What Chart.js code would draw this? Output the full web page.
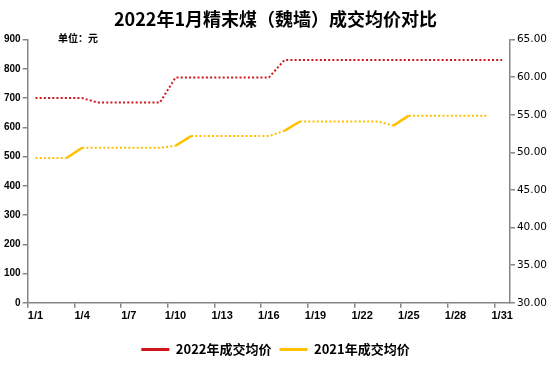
<!DOCTYPE html>
<html>
<head>
<meta charset="utf-8">
<script src="https://cdn.jsdelivr.net/npm/chart.js@4.4.0/dist/chart.umd.min.js"></script>
<style>
    body { margin: 0; background: #fff; }
    #wrap { position: relative; width: 555px; height: 368px; }
    #unit { position: absolute; left: 58px; top: 30px; font: bold 10px "Noto Sans CJK SC"; color: #000; }
</style>
</head>
<body>
<div id="wrap">
    <canvas id="priceChart" width="555" height="368"></canvas>
    <div id="unit">单位：元</div>
</div>

<script>
    var days = ['1/1','1/2','1/3','1/4','1/5','1/6','1/7','1/8','1/9','1/10',
                '1/11','1/12','1/13','1/14','1/15','1/16','1/17','1/18','1/19','1/20',
                '1/21','1/22','1/23','1/24','1/25','1/26','1/27','1/28','1/29','1/30','1/31'];

    var price2022 = [700, 700, 700, 700, 685, 685, 685, 685, 685, 770,
                     770, 770, 770, 770, 770, 770, 830, 830, 830, 830,
                     830, 830, 830, 830, 830, 830, 830, 830, 830, 830, 830];

    var price2021 = [495, 495, 495, 530, 530, 530, 530, 530, 530, 537,
                     570, 570, 570, 570, 570, 570, 588, 620, 620, 620,
                     620, 620, 620, 606, 640, 640, 640, 640, 640, 640, null];

    // segments of the 2021 line that are drawn solid (index of segment start)
    var solid2021 = [2, 9, 16, 23];

    var leftTicks = [0, 900, 100];
    var rightTicks = [30, 65, 5];

    var axisGray = '#868686';

    var ctx = document.getElementById('priceChart').getContext('2d');
    var myPriceChart = new Chart(ctx, {
        type: 'line',
        data: {
            labels: days,
            datasets: [{
                label: '2022年成交均价',
                data: price2022,
                borderColor: '#D0161B',
                backgroundColor: '#D0161B',
                borderWidth: 2,
                borderDash: [2, 2.2],
                pointRadius: 0,
                tension: 0,
                yAxisID: 'y'
            }, {
                label: '2021年成交均价',
                data: price2021,
                borderColor: '#FFC000',
                backgroundColor: '#FFC000',
                borderWidth: 2,
                pointRadius: 0,
                tension: 0,
                yAxisID: 'y',
                segment: {
                    borderDash: function(c) {
                        return solid2021.indexOf(c.p0DataIndex) >= 0 ? [] : [2, 2.2];
                    },
                    borderWidth: function(c) {
                        return solid2021.indexOf(c.p0DataIndex) >= 0 ? 2.5 : 2;
                    }
                }
            }]
        },
        options: {
            responsive: false,
            animation: false,
            layout: { padding: { left: 2, right: 6, top: 0, bottom: 2 } },
            plugins: {
                title: {
                    display: true,
                    text: '2022年1月精末煤（魏墙）成交均价对比',
                    color: '#000',
                    font: { family: '"Noto Sans CJK SC"', size: 18, weight: 'bold' },
                    padding: { top: 8, bottom: 10 }
                },
                legend: {
                    position: 'bottom',
                    labels: {
                        color: '#000',
                        boxWidth: 28,
                        boxHeight: 3,
                        padding: 8,
                        font: { family: '"Noto Sans CJK SC"', size: 13, weight: 'bold' },
                        generateLabels: function(chart) {
                            return chart.data.datasets.map(function(ds, i) {
                                return {
                                    text: ds.label,
                                    fillStyle: ds.borderColor,
                                    strokeStyle: ds.borderColor,
                                    lineWidth: 0,
                                    fontColor: '#000',
                                    datasetIndex: i
                                };
                            });
                        }
                    }
                },
                tooltip: { enabled: false }
            },
            scales: {
                x: {
                    offset: true,
                    border: { color: axisGray, width: 1.5 },
                    grid: {
                        offset: true,
                        drawOnChartArea: false,
                        tickLength: 5,
                        lineWidth: 1.5,
                        color: function(c) {
                            return c.index % 3 === 0 ? axisGray : 'rgba(0,0,0,0)';
                        }
                    },
                    ticks: {
                        autoSkip: false,
                        maxRotation: 0,
                        color: '#000',
                        padding: 2,
                        font: { family: '"Liberation Sans"', size: 11, weight: 'bold' },
                        callback: function(v, i) {
                            return i % 3 === 0 ? days[i] : '';
                        }
                    },
                    afterFit: function(axis) {
                        axis.height += 10;
                    }
                },
                y: {
                    position: 'left',
                    min: leftTicks[0],
                    max: leftTicks[1],
                    border: { color: axisGray, width: 1.5 },
                    grid: { drawOnChartArea: false, tickLength: 5, color: axisGray, lineWidth: 1.5 },
                    ticks: {
                        stepSize: leftTicks[2],
                        color: '#000',
                        padding: 2,
                        font: { family: '"Liberation Sans"', size: 10, weight: 'bold' }
                    }
                },
                y2: {
                    position: 'right',
                    min: rightTicks[0],
                    max: rightTicks[1],
                    border: { color: axisGray, width: 1.5 },
                    grid: { drawOnChartArea: false, tickLength: 5, color: axisGray, lineWidth: 1.5 },
                    ticks: {
                        stepSize: rightTicks[2],
                        color: '#000',
                        padding: 2,
                        font: { family: '"DejaVu Sans"', size: 10.5 },
                        callback: function(v) { return v.toFixed(2); }
                    }
                }
            }
        }
    });
</script>
</body>
</html>
